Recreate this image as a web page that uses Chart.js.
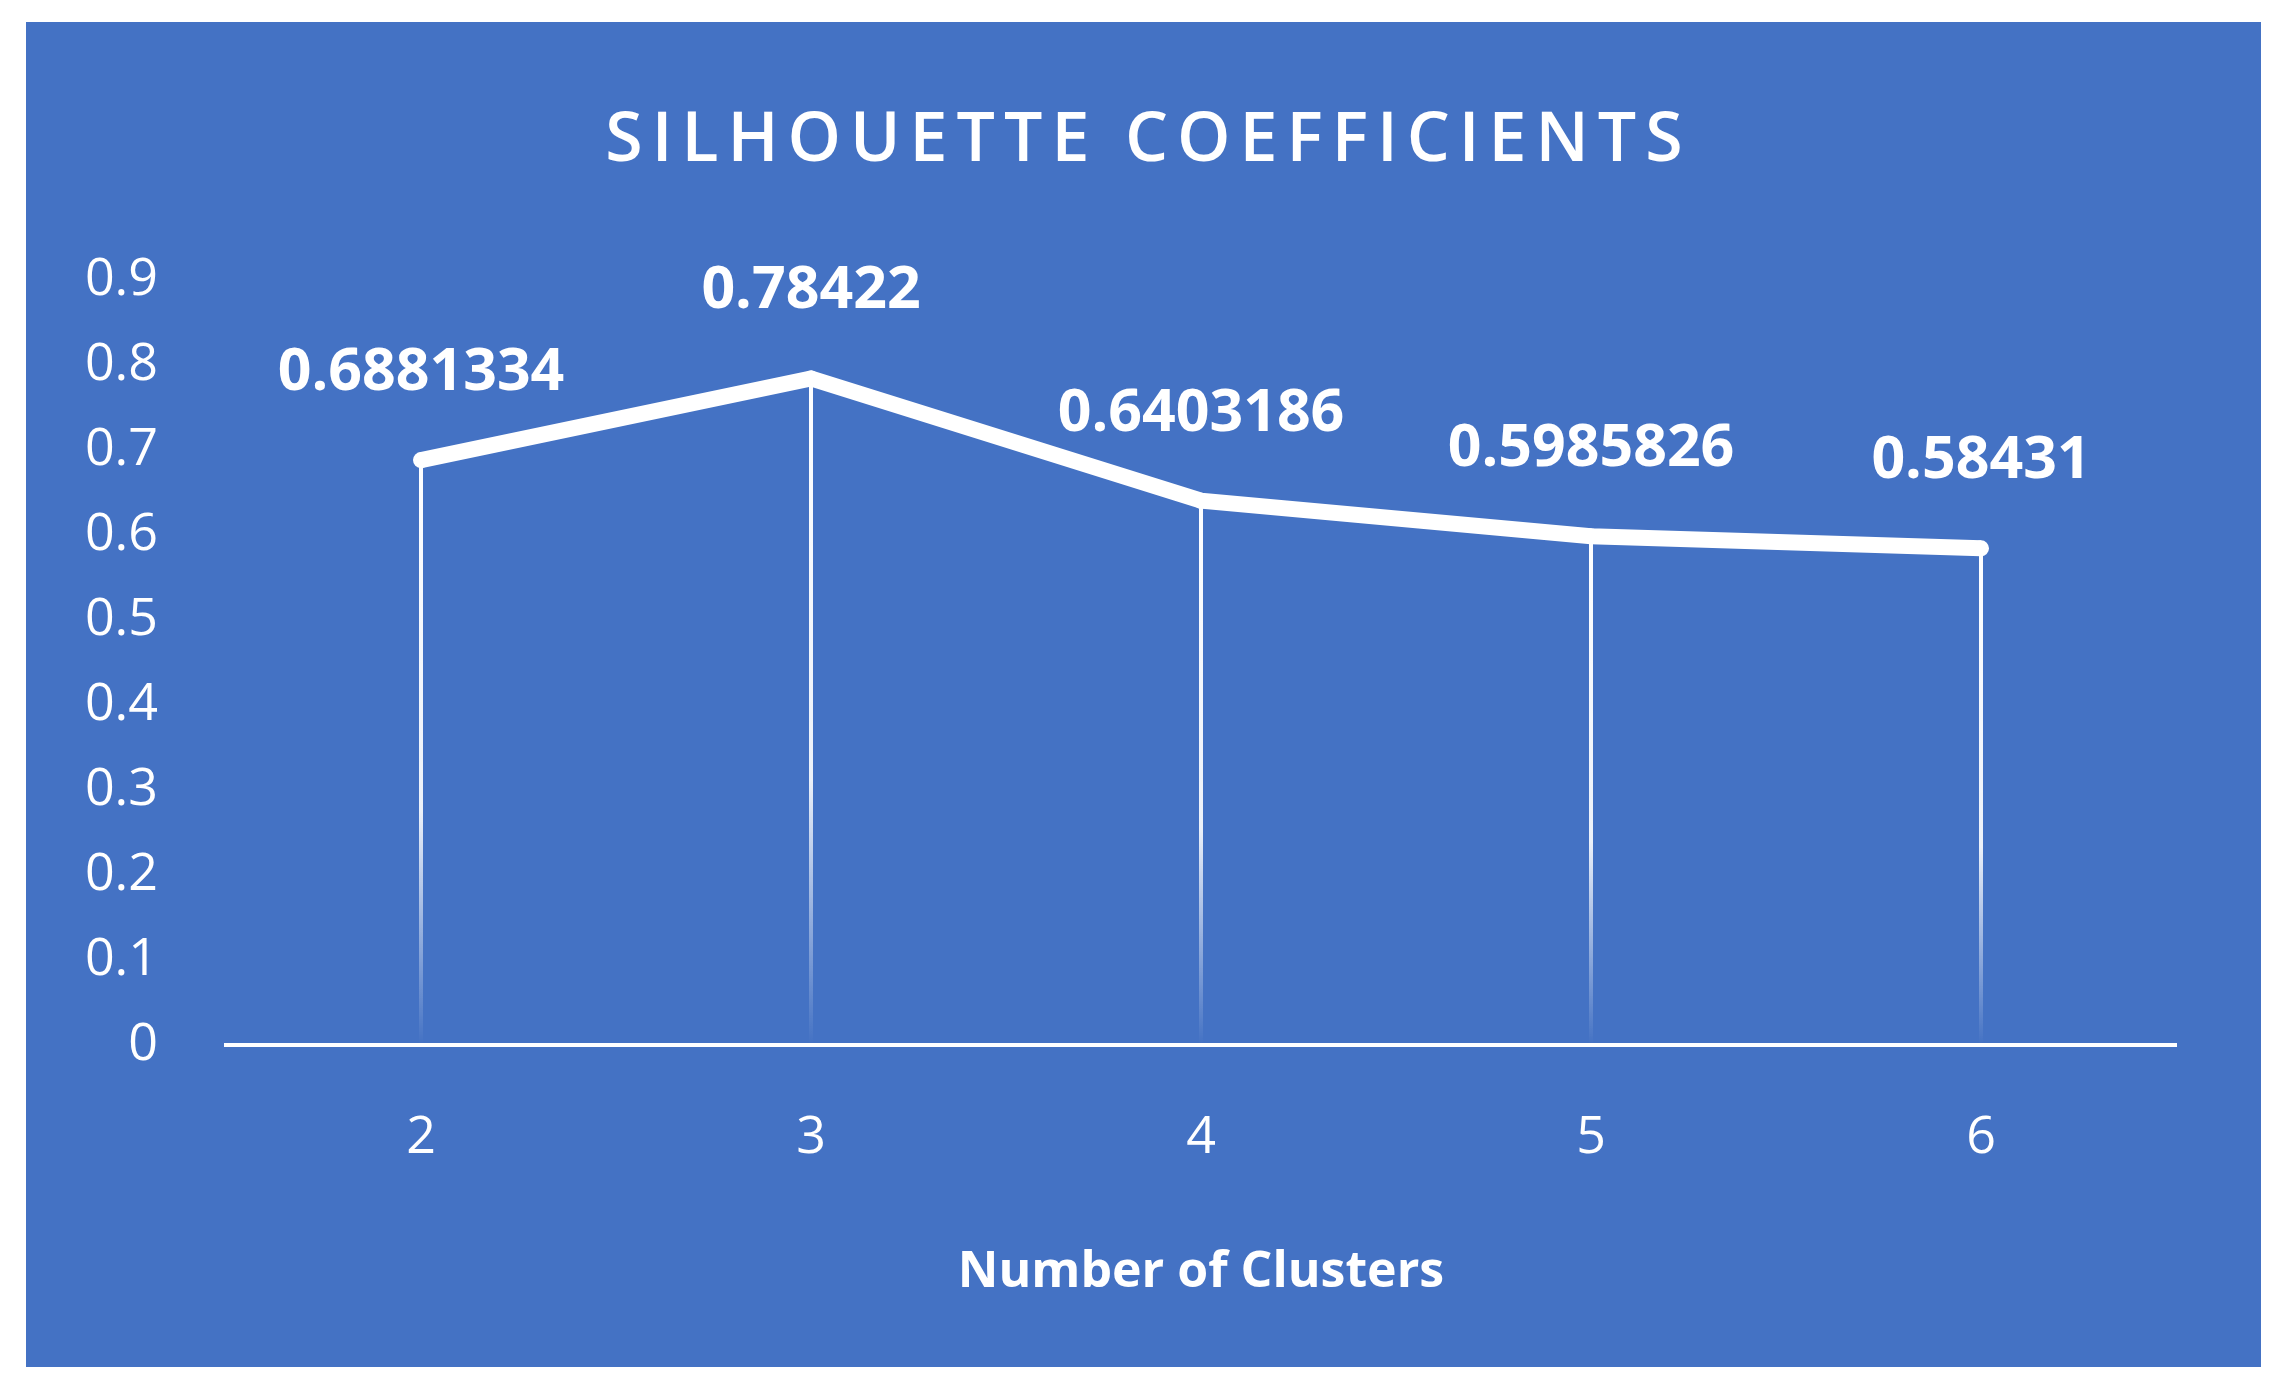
<!DOCTYPE html>
<html>
<head>
<meta charset="utf-8">
<script src="https://cdn.jsdelivr.net/npm/chart.js@4.4.0/dist/chart.umd.min.js"></script>
<style>
  html, body { margin: 0; padding: 0; background: #ffffff; }
  #panel { position: absolute; left: 26px; top: 22px; width: 2235px; height: 1345px; background: #4472C4; }
</style>
</head>
<body>
<div id="panel"><canvas id="chart"></canvas></div>
<script>
const clusters = ['2', '3', '4', '5', '6'];
const silhouette = [0.6881334, 0.78422, 0.6403186, 0.5985826, 0.58431];
const yTicks = [0, 0.1, 0.2, 0.3, 0.4, 0.5, 0.6, 0.7, 0.8, 0.9];
const FONT = '"Open Sans", "Noto Sans", sans-serif';

// vertical drop lines fading toward the axis, plus labels and title
const dropLines = {
    id: 'dropLines',
    beforeDatasetsDraw(chart) {
        const ctx = chart.ctx;
        const yScale = chart.scales.y;
        const base = yScale.getPixelForValue(0);
        chart.getDatasetMeta(0).data.forEach((pt) => {
            const grad = ctx.createLinearGradient(0, pt.y, 0, base);
            grad.addColorStop(0, 'rgba(255,255,255,1)');
            grad.addColorStop(0.6, 'rgba(255,255,255,0.9)');
            grad.addColorStop(1, 'rgba(255,255,255,0)');
            ctx.save();
            ctx.strokeStyle = grad;
            ctx.lineWidth = 4;
            ctx.beginPath();
            ctx.moveTo(pt.x, pt.y);
            ctx.lineTo(pt.x, base);
            ctx.stroke();
            ctx.restore();
        });
    },
    afterDatasetsDraw(chart) {
        const ctx = chart.ctx;
        ctx.save();
        ctx.fillStyle = '#ffffff';
        ctx.font = 'bold 59px ' + FONT;
        ctx.textAlign = 'center';
        ctx.textBaseline = 'middle';
        chart.getDatasetMeta(0).data.forEach((pt, i) => {
            ctx.fillText(String(silhouette[i]), pt.x, pt.y - 87);
        });
        ctx.font = '600 68px ' + FONT;
        ctx.letterSpacing = '9px';
        ctx.fillText('SILHOUETTE COEFFICIENTS', chart.width / 2 + 5, 120);
        ctx.restore();
    }
};

new Chart(document.getElementById('chart'), {
    type: 'line',
    data: {
        labels: clusters,
        datasets: [{
            data: silhouette,
            borderColor: '#ffffff',
            borderWidth: 16,
            pointRadius: 8,
            pointBackgroundColor: '#ffffff',
            pointBorderWidth: 0,
            tension: 0,
            fill: false,
        }],
    },
    options: {
        responsive: true,
        maintainAspectRatio: false,
        animation: { duration: 0 },
        layout: { padding: { top: 258, right: 85, bottom: 60, left: 20 } },
        plugins: { legend: { display: false }, tooltip: { enabled: false } },
        scales: {
            x: {
                offset: true,
                grid: { display: false },
                border: { color: '#ffffff', width: 4 },
                ticks: { color: '#ffffff', font: { size: 52, family: FONT }, padding: 54 },
                title: { display: true, text: 'Number of Clusters', color: '#ffffff',
                         font: { size: 50, weight: 'bold', family: FONT }, padding: { top: 0 } },
                afterFit(scale) { scale.height = 262; },
            },
            y: {
                min: 0,
                max: 0.9,
                grid: { display: false },
                border: { display: false },
                afterBuildTicks(scale) { scale.ticks = yTicks.map((v) => ({ value: v })); },
                ticks: { color: '#ffffff', font: { size: 52, family: FONT }, padding: 60,
                         callback: (v) => String(Math.round(v * 10) / 10) },
                afterFit(scale) { scale.width = 180; },
            },
        },
    },
    plugins: [dropLines],
});
</script>
</body>
</html>
